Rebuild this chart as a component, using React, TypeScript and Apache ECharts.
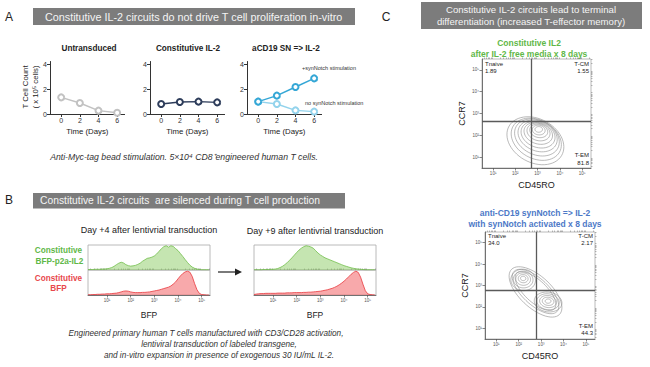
import React, { useEffect, useRef } from "react";
import * as echarts from "echarts";

// ---------- Panel A data ----------
const days = [0, 2, 4, 6];
const untransduced = [1.33, 0.88, 0.27, 0.1];
const constitutiveIL2 = [0.8, 0.96, 0.99, 0.93];
const synNotchStim = [0.99, 1.47, 2.16, 2.85];
const noSynNotchStim = [0.99, 0.8, 0.29, 0.19];
const dayTicks = [0, 2, 4, 6];
const countTicks = [0, 2, 4];

// ---------- Panel B data (log10 BFP bins, normalised counts) ----------
const bfpBins = [0.2, 0.3, 0.4, 0.5, 0.6, 0.7, 0.8, 0.9, 1.0, 1.1, 1.2, 1.3, 1.4, 1.5, 1.6, 1.7, 1.8, 1.9, 2.0, 2.1, 2.2, 2.3, 2.4, 2.5, 2.6, 2.7, 2.8, 2.9, 3.0, 3.1, 3.2, 3.3, 3.4, 3.5, 3.6, 3.7, 3.8, 3.9, 4.0, 4.1, 4.2, 4.3, 4.4, 4.5, 4.6, 4.7, 4.8, 4.9, 5.0, 5.1, 5.2, 5.3];
const day4Green = [0.02, 0.02, 0.02, 0.03, 0.03, 0.03, 0.04, 0.04, 0.05, 0.07, 0.1, 0.15, 0.22, 0.28, 0.32, 0.29, 0.22, 0.18, 0.16, 0.17, 0.19, 0.23, 0.28, 0.36, 0.42, 0.48, 0.5, 0.53, 0.58, 0.66, 0.77, 0.88, 0.96, 1.0, 0.94, 1.0, 0.97, 0.88, 0.8, 0.68, 0.56, 0.43, 0.31, 0.2, 0.12, 0.07, 0.04, 0.02, 0.01, 0.01, 0.01, 0.01];
const day4Red = [0.01, 0.01, 0.02, 0.02, 0.03, 0.03, 0.04, 0.04, 0.05, 0.05, 0.06, 0.07, 0.08, 0.1, 0.13, 0.16, 0.17, 0.16, 0.13, 0.11, 0.1, 0.1, 0.1, 0.11, 0.11, 0.12, 0.13, 0.15, 0.17, 0.19, 0.21, 0.24, 0.27, 0.3, 0.33, 0.38, 0.46, 0.55, 0.68, 0.8, 0.9, 0.97, 1.0, 0.96, 0.78, 0.48, 0.22, 0.07, 0.02, 0.01, 0.0, 0.0];
const day9Green = [0.01, 0.01, 0.01, 0.01, 0.02, 0.02, 0.02, 0.03, 0.03, 0.04, 0.06, 0.1, 0.15, 0.22, 0.3, 0.4, 0.5, 0.61, 0.72, 0.82, 0.9, 0.96, 1.0, 0.98, 0.95, 0.9, 0.8, 0.7, 0.62, 0.56, 0.5, 0.46, 0.42, 0.38, 0.34, 0.3, 0.26, 0.22, 0.18, 0.15, 0.12, 0.09, 0.07, 0.05, 0.04, 0.03, 0.02, 0.01, 0.01, 0.01, 0.01, 0.01];
const day9Red = [0.02, 0.04, 0.05, 0.06, 0.06, 0.07, 0.07, 0.07, 0.07, 0.07, 0.08, 0.08, 0.08, 0.08, 0.09, 0.09, 0.09, 0.1, 0.1, 0.1, 0.1, 0.11, 0.11, 0.12, 0.12, 0.13, 0.14, 0.15, 0.16, 0.18, 0.2, 0.22, 0.25, 0.28, 0.32, 0.37, 0.43, 0.5, 0.58, 0.67, 0.77, 0.87, 0.95, 1.0, 0.95, 0.75, 0.45, 0.18, 0.05, 0.02, 0.01, 0.0];

// ---------- Panel C data (contour levels: [cx, cy, rx, ry, angleDeg] in log10 units) ----------
const contourConstitutive = [
  [2.9, 1.75, 1.36, 1.0, -30],
  [2.94, 1.82, 1.2, 0.88, -30],
  [2.97, 1.9, 1.06, 0.78, -28],
  [3.0, 1.97, 0.92, 0.68, -25],
  [3.02, 2.03, 0.79, 0.58, -22],
  [3.03, 2.09, 0.66, 0.48, -20],
  [3.04, 2.15, 0.53, 0.39, -18],
  [3.05, 2.2, 0.41, 0.3, -15],
  [3.05, 2.24, 0.29, 0.22, -10],
  [3.05, 2.27, 0.17, 0.13, 0],
];
const contourSynNotch = [
  [2.75, 2.7, 1.5, 0.72, -45],
  [2.75, 2.72, 1.34, 0.6, -45],
  [2.75, 2.74, 1.18, 0.5, -45],
  [2.2, 3.26, 0.5, 0.55, 80],
  [2.2, 3.28, 0.39, 0.44, 80],
  [2.2, 3.3, 0.29, 0.33, 80],
  [2.2, 3.32, 0.19, 0.22, 80],
  [2.2, 3.33, 0.1, 0.12, 80],
  [3.31, 2.23, 0.62, 0.46, -10],
  [3.31, 2.24, 0.5, 0.37, -10],
  [3.31, 2.25, 0.38, 0.28, -10],
  [3.31, 2.26, 0.26, 0.19, -10],
  [3.31, 2.27, 0.13, 0.1, 0],
];
const gateConstitutive = [2.7, 2.66];
const gateSynNotch = [2.78, 2.79];
const quadConstitutive = ["1.89", "1.55", "81.8"];
const quadSynNotch = ["34.0", "2.17", "44.3"];
const decadeTicks = [1, 2, 3, 4, 5];

const FONT = "'Liberation Sans', Arial, Helvetica, sans-serif";
const SUP: Record<number, string> = { 0: "⁰", 1: "¹", 2: "²", 3: "³", 4: "⁴", 5: "⁵" };

const minorTicks = (min: number, max: number) => {
  const out: number[] = [];
  for (let d = 0; d <= 5; d++) {
    for (let m = 2; m <= 9; m++) {
      const v = d + Math.log10(m);
      if (v >= min && v <= max) out.push(v);
    }
  }
  return out;
};

const txt = (text: string, x: number, y: number, o: any = {}) => ({
  type: "text",
  x,
  y,
  rotation: o.rotation || 0,
  silent: true,
  style: {
    text,
    fill: o.fill || "#222",
    fontSize: o.size || 7.5,
    fontFamily: FONT,
    fontWeight: o.weight || "normal",
    fontStyle: o.italic ? "italic" : "normal",
    align: o.align || "center",
    verticalAlign: "middle",
    textAlign: o.align || "center",
    textVerticalAlign: "middle",
  },
});

const hidden = (gridIndex: number, min: number, max: number) => ({
  type: "value",
  gridIndex,
  min,
  max,
  show: false,
  splitLine: { show: false },
});

const logMajor = (gridIndex: number, min: number, max: number, name?: string, nameGap = 14, nameRotate?: number) => ({
  type: "value",
  gridIndex,
  min,
  max,
  axisLine: { show: true, onZero: false, lineStyle: { color: "#555", width: 0.8 } },
  axisTick: { show: true, customValues: decadeTicks, length: 2.5, lineStyle: { color: "#555", width: 0.7 } },
  axisLabel: {
    show: true,
    customValues: decadeTicks,
    formatter: (v: number) => "10" + SUP[Math.round(v)],
    fontSize: 4.5,
    color: "#555",
    margin: 3,
    fontFamily: FONT,
  },
  splitLine: { show: false },
  name,
  nameLocation: "middle",
  nameGap,
  nameRotate,
  nameTextStyle: { fontSize: name === "BFP" ? 8.5 : 9, color: "#222", fontFamily: FONT },
});

const logMinor = (gridIndex: number, min: number, max: number) => ({
  type: "value",
  gridIndex,
  min,
  max,
  axisLine: { show: false, onZero: false },
  axisTick: { show: true, customValues: minorTicks(min, max), length: 1.5, lineStyle: { color: "#777", width: 0.5 } },
  axisLabel: { show: false },
  splitLine: { show: false },
});

const timeAxis = (gridIndex: number) => ({
  type: "value",
  gridIndex,
  min: -1.2,
  max: 6.8,
  axisLine: { show: true, onZero: false, lineStyle: { color: "#333", width: 1 } },
  axisTick: { show: true, customValues: dayTicks, length: 3, lineStyle: { color: "#333" } },
  axisLabel: { show: true, customValues: dayTicks, fontSize: 7, color: "#333", margin: 3, fontFamily: FONT },
  splitLine: { show: false },
  name: "Time (Days)",
  nameLocation: "middle",
  nameGap: 13,
  nameTextStyle: { fontSize: 7.8, color: "#222", fontFamily: FONT },
});

const countAxis = (gridIndex: number) => ({
  type: "value",
  gridIndex,
  min: 0,
  max: 4.2,
  axisLine: { show: true, onZero: false, lineStyle: { color: "#333", width: 1 } },
  axisTick: { show: true, customValues: countTicks, length: 3, lineStyle: { color: "#333" } },
  axisLabel: { show: true, customValues: countTicks, fontSize: 7, color: "#333", margin: 3, fontFamily: FONT },
  splitLine: { show: false },
});

const g = (left: number, top: number, width: number, height: number, border = false) => ({
  left,
  top,
  width,
  height,
  show: border,
  borderColor: "#a8a8a8",
  borderWidth: 0.8,
  backgroundColor: "transparent",
  containLabel: false,
  outerBoundsMode: "none",
});

const renderContour = (_params: any, api: any) => {
  const cx = api.value(0);
  const cy = api.value(1);
  const rx = api.value(2);
  const ry = api.value(3);
  const a = (api.value(4) * Math.PI) / 180;
  const pts: number[][] = [];
  for (let k = 0; k < 60; k++) {
    const t = (k / 60) * Math.PI * 2;
    const dx = rx * Math.cos(t);
    const dy = ry * Math.sin(t);
    pts.push(api.coord([cx + dx * Math.cos(a) - dy * Math.sin(a), cy + dx * Math.sin(a) + dy * Math.cos(a)]));
  }
  return { type: "polygon", shape: { points: pts }, style: { fill: "none", stroke: "#8c8c8c", lineWidth: 0.6 } };
};

const pairs = (xs: number[], ys: number[]) => xs.map((x, i) => [x, ys[i]]);

const lineSeries = (axis: number, ys: number[], color: string) => ({
  type: "line",
  xAxisIndex: axis,
  yAxisIndex: axis,
  data: pairs(days, ys),
  symbol: "emptyCircle",
  symbolSize: 6,
  lineStyle: { color, width: 1.5 },
  itemStyle: { color, borderColor: color, borderWidth: 1.5 },
  silent: true,
});

const histSeries = (xAxisIndex: number, yAxisIndex: number, ys: number[], stroke: string, fill: string) => ({
  type: "line",
  xAxisIndex,
  yAxisIndex,
  data: pairs(bfpBins, ys),
  showSymbol: false,
  symbol: "none",
  lineStyle: { color: stroke, width: 0.8 },
  areaStyle: { color: fill, opacity: 1 },
  silent: true,
});

const contourSeries = (xAxisIndex: number, yAxisIndex: number, data: number[][], gate: number[]) => ({
  type: "custom",
  xAxisIndex,
  yAxisIndex,
  data,
  renderItem: renderContour,
  encode: { x: 0, y: 1 },
  silent: true,
  clip: true,
  markLine: {
    silent: true,
    symbol: "none",
    label: { show: false },
    lineStyle: { color: "#5a5a5a", width: 1.3, type: "solid" },
    data: [{ xAxis: gate[0] }, { yAxis: gate[1] }],
  },
});

const GREEN = "#5fb848";
const BLUE = "#4d79c7";
const RED = "#e8474c";

const HX = [0.2, 5.35];
const CX = [0.5, 5.4];
const CY = [0.5, 5.5];

const option: any = {
  animation: false,
  backgroundColor: "#fff",
  grid: [
    g(50, 61.5, 74.6, 52.5),
    g(150, 61.5, 74.6, 52.5),
    g(247, 61.5, 74.6, 52.5),
    g(88, 245, 122, 25, true),
    g(88, 270, 122, 25, true),
    g(254, 245, 122, 25, true),
    g(254, 270, 122, 25, true),
    g(482, 59, 109, 109, true),
    g(485, 232, 110, 107, true),
  ],
  xAxis: [
    timeAxis(0),
    timeAxis(1),
    timeAxis(2),
    hidden(3, HX[0], HX[1]),
    logMajor(4, HX[0], HX[1], "BFP", 15),
    logMinor(4, HX[0], HX[1]),
    hidden(5, HX[0], HX[1]),
    logMajor(6, HX[0], HX[1], "BFP", 15),
    logMinor(6, HX[0], HX[1]),
    logMajor(7, CX[0], CX[1], "CD45RO", 12),
    logMinor(7, CX[0], CX[1]),
    logMajor(8, CX[0], CX[1], "CD45RO", 12),
    logMinor(8, CX[0], CX[1]),
  ],
  yAxis: [
    countAxis(0),
    countAxis(1),
    countAxis(2),
    hidden(3, 0, 1.03),
    hidden(4, 0, 1.05),
    hidden(5, 0, 1.03),
    hidden(6, 0, 1.05),
    logMajor(7, CY[0], CY[1], "CCR7", 16, 90),
    logMinor(7, CY[0], CY[1]),
    logMajor(8, CY[0], CY[1], "CCR7", 16, 90),
    logMinor(8, CY[0], CY[1]),
  ],
  series: [
    lineSeries(0, untransduced, "#c2c2c2"),
    lineSeries(1, constitutiveIL2, "#2d3c5a"),
    lineSeries(2, noSynNotchStim, "#93d3ec"),
    lineSeries(2, synNotchStim, "#35a7d6"),
    histSeries(3, 3, day4Green, "#72bf4c", "rgba(140,204,100,0.5)"),
    histSeries(4, 4, day4Red, "#e8393e", "rgba(242,98,102,0.55)"),
    histSeries(6, 5, day9Green, "#72bf4c", "rgba(140,204,100,0.5)"),
    histSeries(7, 6, day9Red, "#e8393e", "rgba(242,98,102,0.55)"),
    contourSeries(9, 7, contourConstitutive, gateConstitutive),
    contourSeries(11, 9, contourSynNotch, gateSynNotch),
  ],
  graphic: [
    // Panel A
    txt("A", 9, 17, { size: 12 }),
    { type: "rect", silent: true, shape: { x: 33, y: 8, width: 322, height: 17 }, style: { fill: "#7c7c7c" } },
    txt("Constitutive IL-2 circuits do not drive T cell proliferation in-vitro", 45, 16.5, { align: "left", size: 10.8, fill: "#f4f4f4" }),
    txt("Untransduced", 89, 48, { weight: "bold", size: 8.2 }),
    txt("Constitutive IL-2", 188, 48, { weight: "bold", size: 8.2 }),
    txt("aCD19 SN => IL-2", 286, 48, { weight: "bold", size: 8.2 }),
    txt("T Cell Count", 25, 87, { rotation: Math.PI / 2, size: 7.8 }),
    txt("( x 10⁵ cells)", 35, 87, { rotation: Math.PI / 2, size: 7.8 }),
    txt("+synNotch stimulation", 302, 68, { align: "left", size: 5.5, fill: "#333" }),
    txt("no synNotch stimulation", 305, 103, { align: "left", size: 5.5, fill: "#333" }),
    txt("Anti-Myc-tag bead stimulation. 5×10⁴ CD8⁺engineered human T cells.", 184, 157, { italic: true, size: 8.7, fill: "#333" }),
    // Panel B
    txt("B", 9, 200, { size: 12 }),
    { type: "rect", silent: true, shape: { x: 33, y: 193, width: 312, height: 15.5 }, style: { fill: "#7c7c7c" } },
    txt("Constitutive IL-2 circuits  are silenced during T cell production", 40, 200.8, { align: "left", size: 10.3, fill: "#f4f4f4" }),
    txt("Day +4 after lentivrial transduction", 149, 230, { size: 9 }),
    txt("Day +9 after lentivrial transduction", 315, 231, { size: 9 }),
    txt("Constitutive", 58.5, 250, { weight: "bold", size: 8.2, fill: GREEN }),
    txt("BFP-p2a-IL2", 59.5, 261, { weight: "bold", size: 8.2, fill: GREEN }),
    txt("Constitutive", 58.5, 278, { weight: "bold", size: 8.2, fill: RED }),
    txt("BFP", 58.5, 288.5, { weight: "bold", size: 8.2, fill: RED }),
    { type: "line", silent: true, shape: { x1: 218, y1: 272, x2: 238, y2: 272 }, style: { stroke: "#222", lineWidth: 1.2 } },
    { type: "polygon", silent: true, shape: { points: [[235, 268.5], [242, 272], [235, 275.5]] }, style: { fill: "#222" } },
    txt("Engineered primary human T cells manufactured with CD3/CD28 activation,", 206, 333, { italic: true, size: 8.2, fill: "#333" }),
    txt("lentiviral transduction of labeled transgene,", 219, 344.5, { italic: true, size: 8.2, fill: "#333" }),
    txt("and in-vitro expansion in presence of exogenous 30 IU/mL IL-2.", 219, 355.5, { italic: true, size: 8.2, fill: "#333" }),
    // Panel C
    txt("C", 386, 17, { size: 12 }),
    { type: "rect", silent: true, shape: { x: 421, y: 2, width: 221, height: 27 }, style: { fill: "#7c7c7c" } },
    txt("Constitutive IL-2 circuits lead to terminal", 531, 9, { size: 9.6, fill: "#f4f4f4" }),
    txt("differentiation (increased T-effector memory)", 531, 21, { size: 9.6, fill: "#f4f4f4" }),
    txt("Constitutive IL2", 529, 43, { weight: "bold", size: 8.5, fill: GREEN }),
    txt("after IL-2 free media x 8 days", 529, 54, { weight: "bold", size: 8.5, fill: GREEN }),
    txt("Tnaive", 485, 63.5, { align: "left", size: 6 }),
    txt(quadConstitutive[0], 485, 70.5, { align: "left", size: 6 }),
    txt("T-CM", 589, 63.5, { align: "right", size: 6 }),
    txt(quadConstitutive[1], 589, 70.5, { align: "right", size: 6 }),
    txt("T-EM", 589, 155, { align: "right", size: 6 }),
    txt(quadConstitutive[2], 589, 162.5, { align: "right", size: 6 }),
    txt("anti-CD19 synNotch => IL-2", 535, 213, { weight: "bold", size: 8.5, fill: BLUE }),
    txt("with synNotch activated x 8 days", 535, 223.5, { weight: "bold", size: 8.5, fill: BLUE }),
    txt("Tnaive", 488, 236, { align: "left", size: 6 }),
    txt(quadSynNotch[0], 488, 243, { align: "left", size: 6 }),
    txt("T-CM", 593, 236, { align: "right", size: 6 }),
    txt(quadSynNotch[1], 593, 243, { align: "right", size: 6 }),
    txt("T-EM", 593, 326, { align: "right", size: 6 }),
    txt(quadSynNotch[2], 593, 333, { align: "right", size: 6 }),
  ],
};

export default function App() {
  const ref = useRef<HTMLDivElement>(null);
  useEffect(() => {
    const chart = echarts.init(ref.current as HTMLDivElement, null, { renderer: "svg" });
    chart.setOption(option);
    return () => chart.dispose();
  }, []);
  return (
    <div
      ref={ref}
      style={{ position: "fixed", left: 0, top: 0, width: 650, height: 367, background: "#fff" }}
    />
  );
}
